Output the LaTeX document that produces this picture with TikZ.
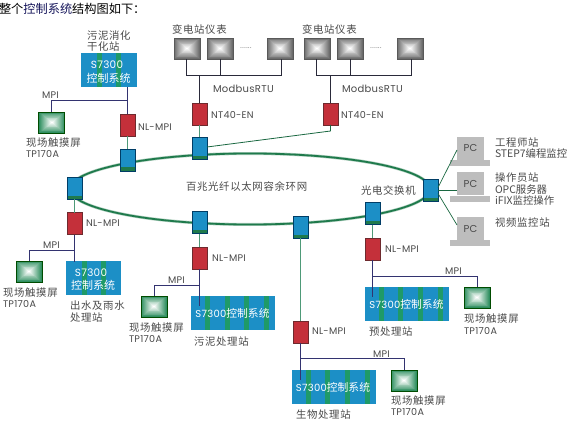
\documentclass[tikz,border=0pt]{standalone}
\usepackage{fontspec}
\setmainfont{Poppins}
\newfontfamily\cjk[LetterSpace=6.5]{Noto Sans CJK SC}
\newfontfamily\cjkt{Noto Sans CJK SC}
\newfontfamily\lat[LetterSpace=3]{Poppins}
\definecolor{ringgreen}{HTML}{1F7A4C}
\definecolor{boxblue}{HTML}{1C8FC6}
\definecolor{stripegreen}{HTML}{1F9A68}
\definecolor{redbox}{HTML}{C4303A}
\definecolor{redrim}{HTML}{6E2A2E}
\definecolor{txt}{HTML}{4A4A4A}
\definecolor{busline}{HTML}{2A2A3A}
\definecolor{linkgreen}{HTML}{4E9A78}
\definecolor{pcgray}{HTML}{BDBDBD}
\definecolor{titleblue}{HTML}{14145A}
\definecolor{metergray}{HTML}{6C6C6C}
\definecolor{touchgreen}{HTML}{2F8F60}
\newcommand{\nestedrects}[2]{%
  \foreach \k in {0,...,12}{%
    \pgfmathsetmacro{\mixv}{\k*100/12}%
    \pgfmathsetmacro{\inset}{\k/13}%
    \fill[#2!\mixv!#1]
      ($(path picture bounding box.south west)!\inset*0.5!(path picture bounding box.north east)$)
      rectangle
      ($(path picture bounding box.north east)!\inset*0.5!(path picture bounding box.south west)$);
  }}
\usetikzlibrary{calc}
\tikzset{
  x=1pt,y=-1pt,
  every node/.style={inner sep=0pt,outer sep=0pt,text=txt},
  label/.style={font=\cjk\fontsize{10.4}{11}\selectfont,anchor=west,align=left},
  latlabel/.style={font=\lat\fontsize{9.6}{11}\selectfont,anchor=west},
  meter/.style={draw=black!65,line width=.4pt,minimum width=26pt,minimum height=21pt,
    path picture={\nestedrects{metergray}{white}}},
  touch/.style={draw=black!70!green,line width=.6pt,minimum width=26pt,minimum height=21pt,
    path picture={\nestedrects{touchgreen}{white}}},
  redunit/.style={fill=redbox,draw=redrim,line width=.5pt,minimum width=15pt,minimum height=22pt},
  switchbox/.style={fill=boxblue,draw=black!60!green!60!blue,line width=.5pt,minimum width=15pt,minimum height=22pt,
    path picture={\fill[ringgreen]
      ($(path picture bounding box.south west)+(0,-3.5)$) rectangle (path picture bounding box.south east);}},
  plc/.style={fill=boxblue,minimum height=34pt,align=center,text=white},
  plcwide/.style={plc,minimum width=84pt,path picture={
    \foreach \o in {14,33.5,53,73}{\fill[stripegreen]
      ($(path picture bounding box.north west)+(\o,0)$) rectangle
      ($(path picture bounding box.south west)+(\o+5,0)$);}}},
  plcnarrow/.style={plc,minimum width=56pt,path picture={
    \foreach \o in {15.5,35}{\fill[stripegreen]
      ($(path picture bounding box.north west)+(\o,0)$) rectangle
      ($(path picture bounding box.south west)+(\o+5,0)$);}}},
  plctxt/.style={text=white,font=\lat\fontsize{10.4}{12.5}\selectfont},
  plccjk/.style={text=white,font=\cjkt\fontsize{11}{12}\selectfont},
  pcbox/.style={fill=pcgray,minimum width=27pt,minimum height=23pt,font=\lat\fontsize{10}{11}\selectfont},
  pcbase/.style={fill=pcgray,minimum width=40pt,minimum height=6pt},
  ring/.style={draw=ringgreen,line width=1.8pt},
  fieldbus/.style={draw=busline,line width=1pt},
  mpibus/.style={draw=black!70!blue!80,line width=1pt},
  greenlink/.style={draw=linkgreen,line width=1pt},
  pclink/.style={draw=ringgreen!85!black,line width=.7pt},
  tpname/.style={font=\lat\fontsize{9.6}{11}\selectfont,anchor=west},
}
\newcommand{\wideplc}{\lat\fontsize{10}{12}\selectfont S7300\cjkt\fontsize{10.8}{12}\selectfont 控制系统}
\begin{document}
\begin{tikzpicture}
\useasboundingbox (0,0) rectangle (581,425);
\fill[white] (0,0) rectangle (581,425);

% title
\node[anchor=west,font=\cjkt\fontsize{12.2}{13}\selectfont,text=black] (title) at (-1,9)
  {整个{\color{titleblue}控制系统}结构图如下：};

% ring
\draw[draw=ringgreen!35,line width=3pt] (250,189) ellipse [x radius=180,y radius=35.5];
\draw[ring] (250,189) ellipse [x radius=180,y radius=35.5];
\node[label] (ringname) at (186,187) {百兆光纤以太网容余环网};

% ring switches
\node[switchbox] (sw1) at (127.5,160) {};
\node[switchbox] (sw2) at (199.5,148.5) {};
\node[switchbox] (sw3) at (74.5,188) {};
\node[switchbox] (sw4) at (199.5,222.5) {};
\node[switchbox] (sw5) at (300.5,227) {};
\node[switchbox] (sw6) at (372.5,213.5) {};
\node[switchbox] (sw7) at (430.5,190.5) {};

% red converters
\node[redunit] (r1) at (127.5,125.5) {};
\node[redunit] (r2) at (199.5,114) {};
\node[redunit] (r3) at (330.5,114) {};
\node[redunit] (r4) at (74.5,223.5) {};
\node[redunit] (r5) at (199.5,258) {};
\node[redunit] (r6) at (372.5,249) {};
\node[redunit] (r7) at (300.5,332) {};
\node[latlabel] (t1) at (138,127) {NL-MPI};
\node[latlabel] (t2) at (211,115) {NT40-EN};
\node[latlabel] (t3) at (341,115) {NT40-EN};
\node[latlabel] (t4) at (86,223) {NL-MPI};
\node[latlabel] (t5) at (212,258) {NL-MPI};
\node[latlabel] (t6) at (385,249) {NL-MPI};
\node[latlabel] (t7) at (312,331) {NL-MPI};

% meters
\node[meter] (m1) at (187,48.5) {};
\node[meter] (m2) at (220,48.5) {};
\node[meter] (m3) at (280,48.5) {};
\node[meter] (m4) at (317,48.5) {};
\node[meter] (m5) at (350,48.5) {};
\node[meter] (m6) at (410,48.5) {};
\node[label] (ml1) at (172,30) {变电站仪表};
\node[label] (ml2) at (302,30) {变电站仪表};
\node[font=\cjkt\fontsize{7}{8}\selectfont] (dots1) at (246,48) {......};
\node[font=\cjkt\fontsize{7}{8}\selectfont] (dots2) at (376,48) {......};
\node[latlabel,font=\lat\fontsize{10}{11}\selectfont] (mb1) at (213,89) {ModbusRTU};
\node[latlabel,font=\lat\fontsize{10}{11}\selectfont] (mb2) at (342,89) {ModbusRTU};

\coordinate (b1a) at (186,76); \coordinate (b1b) at (220,76); \coordinate (b1c) at (281,76); \coordinate (b1d) at (199.5,76);
\coordinate (b2a) at (316,76); \coordinate (b2b) at (350,76); \coordinate (b2c) at (411,76); \coordinate (b2d) at (330.5,76);
\draw[fieldbus] (m1.south -| b1a) -- (b1a) -- (b1c) -- (m3.south -| b1c);
\draw[fieldbus] (m2.south) -- (b1b);
\draw[fieldbus] (b1d) -- (r2.north);
\draw[fieldbus] (m4.south -| b2a) -- (b2a) -- (b2c) -- (m6.south -| b2c);
\draw[fieldbus] (m5.south) -- (b2b);
\draw[fieldbus] (b2d) -- (r3.north);
\draw[greenlink] (r2.south) -- (sw2.north);
\coordinate (r3tail) at (330.5,131);
\coordinate (sw2e) at (207,147);
\draw[draw=ringgreen!85!black,line width=.8pt] (r3.south) -- (r3tail) -- (sw2e);

% PLC stations
\node[plcnarrow] (p1) at (109,70.5) {};
\node[plcnarrow,minimum width=55pt] (p2) at (93.5,278) {};
\node[plcwide] (p3) at (233,313) {};
\node[plcwide] (p4) at (406.5,304) {};
\node[plcwide] (p5) at (333.5,387) {};
\node[plctxt] (p1a) at (107,65) {S7300};
\node[plccjk] (p1b) at (108.5,78) {控制系统};
\node[plctxt] (p2a) at (91,273) {S7300};
\node[plccjk] (p2b) at (93,285.5) {控制系统};
\node[text=white] (p3a) at (232.5,313) {\wideplc};
\node[text=white] (p4a) at (406.5,304.5) {\wideplc};
\node[text=white] (p5a) at (333,387.5) {\wideplc};

\node[label] (p1l) at (87,36) {污泥消化};
\node[label] (p1m) at (87,47) {干化站};
\node[label] (p2l) at (70,306) {出水及雨水};
\node[label] (p2m) at (70,318) {处理站};
\node[label] (p3l) at (194,342) {污泥处理站};
\node[label] (p4l) at (369,332) {预处理站};
\node[label] (p5l) at (296,415) {生物处理站};

% touch panels
\node[touch] (tp1) at (51.5,122.5) {};
\node[touch] (tp2) at (29,271.5) {};
\node[touch] (tp3) at (154,306.5) {};
\node[touch] (tp4) at (477,297.5) {};
\node[touch] (tp5) at (404,380.5) {};
\node[label] (tpla) at (26,143) {现场触摸屏};
\node[label] (tplb) at (3,293) {现场触摸屏};
\node[label] (tplc) at (129,328) {现场触摸屏};
\node[label] (tpld) at (464,319) {现场触摸屏};
\node[label] (tple) at (391,401) {现场触摸屏};
\node[tpname] (tpm1) at (26,154) {TP170A};
\node[tpname] (tpm2) at (3,304) {TP170A};
\node[tpname] (tpm3) at (129,339) {TP170A};
\node[tpname] (tpm4) at (464,331) {TP170A};
\node[tpname] (tpm5) at (391,412) {TP170A};

% MPI branches
\coordinate (j1) at (127.5,101);
\draw[mpibus] (p1.south -| j1) -- (r1.north);
\draw[mpibus] (j1) -| (tp1.north);
\draw[greenlink] (r1.south) -- (sw1.north);
\node[latlabel] (mpi1) at (42,95) {MPI};

\coordinate (j2) at (74.5,250);
\coordinate (e2) at (74.5,262);
\draw[greenlink] (sw3.south) -- (r4.north);
\draw[mpibus] (r4.south) -- (e2);
\draw[mpibus] (j2) -| (tp2.north);
\node[latlabel] (mpi2) at (43,245) {MPI};

\coordinate (j3) at (199.5,285);
\coordinate (e3) at (199.5,306);
\draw[greenlink] (sw4.south) -- (r5.north);
\draw[mpibus] (r5.south) -- (e3);
\draw[mpibus] (j3) -| (tp3.north);
\node[latlabel] (mpi3) at (168,280) {MPI};

\coordinate (j4) at (372.5,276);
\coordinate (e4) at (372.5,297);
\draw[greenlink] (sw6.south) -- (r6.north);
\draw[mpibus] (r6.south) -- (e4);
\draw[mpibus] (j4) -| (tp4.north);
\node[latlabel] (mpi4) at (445,271) {MPI};

\coordinate (j5) at (300.5,358);
\coordinate (e5) at (300.5,380);
\draw[greenlink] (sw5.south) -- (r7.north);
\draw[mpibus] (r7.south) -- (e5);
\draw[mpibus] (j5) -| (tp5.north);
\node[latlabel] (mpi5) at (373,354) {MPI};

% PCs
\node[pcbox] (pc1) at (470.5,148.5) {PC};
\node[pcbox] (pc2) at (470.5,183.5) {PC};
\node[pcbox] (pc3) at (470.5,228.5) {PC};
\node[pcbase] (pb1) at (470,163) {};
\node[pcbase] (pb2) at (470,198.5) {};
\node[pcbase] (pb3) at (470,243) {};
\coordinate (pl1) at (457,150);
\coordinate (pl2) at (457,190.5);
\coordinate (pl3) at (457,225);
\draw[pclink] (sw7.east) ++(0,-3) -- (pl1);
\draw[pclink] (sw7.east) -- (pl2);
\draw[pclink] (sw7.east) ++(0,3) -- (pl3);
\node[label] (pt1) at (495,143) {工程师站};
\node[label,font=\cjkt\fontsize{10.4}{11}\selectfont] (pt2) at (495,154) {STEP7编程监控};
\node[label] (pt3) at (495,178) {操作员站};
\node[label,font=\cjkt\fontsize{10.4}{11}\selectfont] (pt4) at (495,189.5) {OPC服务器};
\node[label,font=\cjkt\fontsize{10.4}{11}\selectfont] (pt5) at (495,201) {iFIX监控操作};
\node[label] (pt6) at (495,223) {视频监控站};
\node[label] (swname) at (361,191) {光电交换机};
\end{tikzpicture}
\end{document}
